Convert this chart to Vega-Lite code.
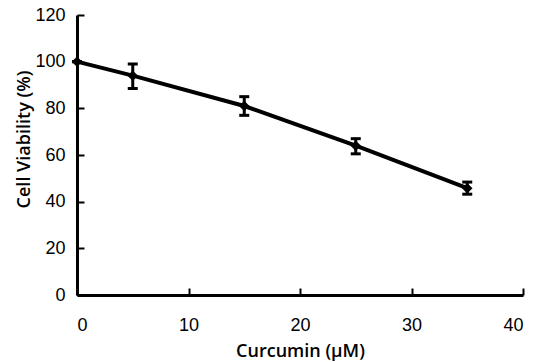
{
  "$schema": "https://vega.github.io/schema/vega-lite/v6.json",
  "autosize": {"type": "none"},
  "padding": {"left": 77, "top": 15, "right": 18, "bottom": 67},
  "width": 446,
  "height": 280,
  "background": "white",
  "config": {"view": {"stroke": null}},
  "data": {"values": [
    {"conc": 0, "viability": 100, "lo": 100, "hi": 100},
    {"conc": 5, "viability": 94, "lo": 88.5, "hi": 99},
    {"conc": 15, "viability": 81, "lo": 77, "hi": 85},
    {"conc": 25, "viability": 64, "lo": 60.5, "hi": 67},
    {"conc": 35, "viability": 45.8, "lo": 43.2, "hi": 48.4}
  ]},
  "encoding": {
    "x": {"field": "conc", "type": "quantitative",
      "scale": {"domain": [0, 40]},
      "axis": {"title": "Curcumin (μM)", "values": [0, 10, 20, 30, 40], "grid": false,
        "domainColor": "black", "domainWidth": 3, "tickColor": "black", "tickWidth": 2, "tickSize": -7,
        "labelFont": "Liberation Sans", "labelFontSize": 18, "labelColor": "black", "labelPadding": 28,
        "titleFont": "Open Sans", "titleFontWeight": 600, "titleFontSize": 18, "titleColor": "black",
        "titleY": 61, "titleBaseline": "alphabetic"}},
    "y": {"field": "viability", "type": "quantitative",
      "scale": {"domain": [0, 120]},
      "axis": {"title": "Cell Viability (%)", "values": [0, 20, 40, 60, 80, 100, 120], "grid": false,
        "domainColor": "black", "domainWidth": 3, "tickColor": "black", "tickWidth": 2, "tickSize": -7,
        "labelFont": "Liberation Sans", "labelFontSize": 18, "labelColor": "black", "labelPadding": 19,
        "titleFont": "Open Sans", "titleFontWeight": 600, "titleFontSize": 18, "titleColor": "black",
        "titleX": -53, "titleY": 124, "titleBaseline": "middle", "titleAlign": "center", "titleAngle": -90}}
  },
  "layer": [
    {"mark": {"type": "rule", "color": "black", "strokeWidth": 3},
     "encoding": {"y": {"field": "lo", "type": "quantitative"}, "y2": {"field": "hi"}}},
    {"mark": {"type": "tick", "orient": "horizontal", "color": "black", "thickness": 3, "size": 10, "opacity": 1},
     "encoding": {"y": {"field": "lo", "type": "quantitative"}}},
    {"mark": {"type": "tick", "orient": "horizontal", "color": "black", "thickness": 3, "size": 10, "opacity": 1},
     "encoding": {"y": {"field": "hi", "type": "quantitative"}}},
    {"mark": {"type": "line", "color": "black", "strokeWidth": 4}},
    {"mark": {"type": "point", "shape": "diamond", "filled": true, "color": "black", "size": 110, "opacity": 1}}
  ]
}
